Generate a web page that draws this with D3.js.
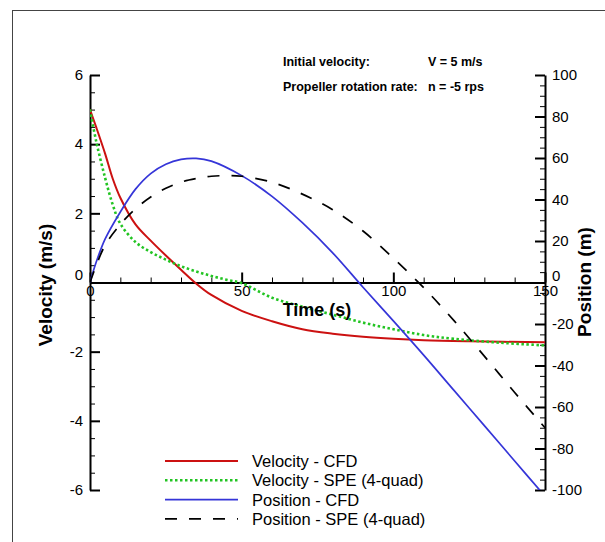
<!DOCTYPE html>
<html>
<head>
<meta charset="utf-8">
<script src="https://cdn.jsdelivr.net/npm/d3@7"></script>
<style>
  body { margin: 0; background: #fff; }
  svg { font-family: "Liberation Sans", Arial, sans-serif; }
  .axis path, .axis line { stroke: #000; }
  .axis text { font-size: 15px; fill: #000; }
</style>
</head>
<body>
<svg id="chart" width="605" height="542"></svg>
<script>
// data
let velCfdT = [0, 2, 5, 7.5, 10, 15, 20, 25, 30, 35, 40, 50, 60, 70, 80, 90, 100, 110, 125, 150];
let velCfd  = [5.0, 4.5, 3.72, 3.0, 2.45, 1.68, 1.21, 0.78, 0.37, -0.03, -0.36, -0.82, -1.12, -1.35, -1.48, -1.57, -1.63, -1.67, -1.70, -1.73];

let velSpeT = [0, 2, 5, 7.5, 10, 15, 20, 25, 30, 35, 40, 45, 50, 60, 70, 80, 90, 100, 110, 120, 135, 150];
let velSpe  = [5.0, 4.1, 3.02, 2.25, 1.70, 1.17, 0.88, 0.66, 0.47, 0.32, 0.19, 0.08, -0.02, -0.44, -0.70, -0.93, -1.16, -1.35, -1.52, -1.63, -1.74, -1.82];

let posCfdT = [0, 2, 5, 10, 15, 20, 25, 30, 35, 40, 50, 60, 70, 80, 90, 100, 110, 120, 130, 140, 150];
let posCfd  = [0, 9.6, 21, 34, 45, 52.5, 57, 59.3, 59.8, 58.5, 51.5, 41.5, 28.8, 14.3, -2.3, -18.5, -35, -52, -69, -86, -103];

let posSpeT = [0, 2, 5, 10, 15, 20, 25, 30, 35, 40, 45, 50, 60, 70, 80, 90, 100, 110, 120, 130, 140, 150];
let posSpe  = [0, 8, 18, 28, 35.5, 41.2, 45.4, 48.4, 50.1, 51.2, 51.5, 51.2, 48.3, 42.6, 35.1, 24.8, 11.7, -2.5, -18.4, -35.5, -53, -70];

let timeTicks = [0, 50, 100, 150];
let velTicks = [-6, -4, -2, 0, 2, 4, 6];
let posTicks = [-100, -80, -60, -40, -20, 0, 20, 40, 60, 80, 100];

let legendNames = ["Velocity - CFD", "Velocity - SPE (4-quad)", "Position - CFD", "Position - SPE (4-quad)"];
let noteLabels = ["Initial velocity:", "Propeller rotation rate:"];
let noteValues = ["V = 5 m/s", "n = -5 rps"];

let svg = d3.select("#chart");

// frame lines (top and left only)
svg.append("line").attr("x1", 12).attr("x2", 605).attr("y1", 10.5).attr("y2", 10.5)
    .attr("stroke", "#444").attr("stroke-width", 1);
svg.append("line").attr("x1", 12.5).attr("x2", 12.5).attr("y1", 10).attr("y2", 542)
    .attr("stroke", "#444").attr("stroke-width", 1);

let plotLeft = 90, plotRight = 545, plotTop = 75, plotBottom = 490;

let x = d3.scaleLinear().domain([0, 150]).range([plotLeft, plotRight]);
let yV = d3.scaleLinear().domain([-6, 6]).range([plotBottom, plotTop]);
let yP = d3.scaleLinear().domain([-100, 100]).range([plotBottom, plotTop]);

let fmt = d => String(d);

// minor ticks
let minorV = d3.range(-6, 6.01, 0.5).filter(v => !velTicks.includes(v));
let minorP = d3.range(-100, 101, 5).filter(v => !posTicks.includes(v));
let minorT = d3.range(0, 151, 10).filter(v => !timeTicks.includes(v));

svg.append("g").attr("class", "axis").attr("transform", "translate(" + plotLeft + ",0)")
    .call(d3.axisLeft(yV).tickValues(minorV).tickSize(-5).tickSizeOuter(0).tickFormat(""))
    .call(g => g.select(".domain").remove());
svg.append("g").attr("class", "axis").attr("transform", "translate(" + plotRight + ",0)")
    .call(d3.axisRight(yP).tickValues(minorP).tickSize(-5).tickSizeOuter(0).tickFormat(""))
    .call(g => g.select(".domain").remove());
svg.append("g").attr("class", "axis").attr("transform", "translate(0," + yV(0) + ")")
    .call(d3.axisBottom(x).tickValues(minorT).tickSize(-5).tickSizeOuter(0).tickFormat(""))
    .call(g => g.select(".domain").remove());

// major axes
let gL = svg.append("g").attr("class", "axis").attr("transform", "translate(" + plotLeft + ",0)")
    .call(d3.axisLeft(yV).tickValues(velTicks).tickSize(-10).tickSizeOuter(0).tickPadding(7).tickFormat(fmt));
let gR = svg.append("g").attr("class", "axis").attr("transform", "translate(" + plotRight + ",0)")
    .call(d3.axisRight(yP).tickValues(posTicks).tickSize(-10).tickSizeOuter(0).tickPadding(7).tickFormat(fmt));
let gB = svg.append("g").attr("class", "axis").attr("transform", "translate(0," + yV(0) + ")")
    .call(d3.axisBottom(x).tickValues(timeTicks).tickSize(-10).tickSizeOuter(0).tickPadding(3).tickFormat(fmt));

[gL, gR, gB].forEach(g => {
    g.select(".domain").attr("stroke-width", 2);
    g.selectAll(".tick line").attr("stroke-width", 2);
});

// zero labels sit a little above the time axis, as in the original
gL.selectAll(".tick").filter(d => d === 0).select("text").attr("y", -8);
gR.selectAll(".tick").filter(d => d === 0).select("text").attr("y", -7);

// curves
svg.append("clipPath").attr("id", "plotClip").append("rect")
    .attr("x", plotLeft).attr("y", plotTop).attr("width", plotRight - plotLeft).attr("height", plotBottom - plotTop);
let curves = svg.append("g").attr("clip-path", "url(#plotClip)");

let series = [
    {t: velCfdT, v: velCfd, y: yV, color: "#cc1111", width: 2, dash: null},
    {t: velSpeT, v: velSpe, y: yV, color: "#22c422", width: 2.6, dash: "2.5,2.5"},
    {t: posCfdT, v: posCfd, y: yP, color: "#3535d8", width: 1.7, dash: null},
    {t: posSpeT, v: posSpe, y: yP, color: "#000", width: 1.7, dash: "12,12"}
];

series.forEach(s => {
    let line = d3.line()
        .x((d, i) => x(s.t[i]))
        .y(d => s.y(d))
        .curve(d3.curveCatmullRom.alpha(0.5));
    curves.append("path")
        .datum(s.v)
        .attr("d", line)
        .attr("fill", "none")
        .attr("stroke", s.color)
        .attr("stroke-width", s.width)
        .attr("stroke-dasharray", s.dash);
});

// axis titles
svg.append("text").text("Time (s)")
    .attr("x", 317).attr("y", 316)
    .attr("text-anchor", "middle").attr("font-weight", "bold").attr("font-size", 18);
svg.append("text").text("Velocity (m/s)")
    .attr("transform", "translate(52,285) rotate(-90)")
    .attr("text-anchor", "middle").attr("font-weight", "bold").attr("font-size", 19);
svg.append("text").text("Position (m)")
    .attr("transform", "translate(591,282) rotate(-90)")
    .attr("text-anchor", "middle").attr("font-weight", "bold").attr("font-size", 19);

// annotation
noteLabels.forEach((d, i) => {
    svg.append("text").text(d)
        .attr("x", 283).attr("y", 66 + i * 25)
        .attr("font-weight", "bold").attr("font-size", 12.5);
    svg.append("text").text(noteValues[i])
        .attr("x", 428).attr("y", 66 + i * 25)
        .attr("font-weight", "bold").attr("font-size", 12.5);
});

// legend
let legend = svg.append("g");
legendNames.forEach((name, i) => {
    let s = series[i];
    let yy = 461 + i * 19.3;
    legend.append("line")
        .attr("x1", 165).attr("x2", 238).attr("y1", yy).attr("y2", yy)
        .attr("stroke", s.color).attr("stroke-width", s.width)
        .attr("stroke-dasharray", s.dash);
    legend.append("text").text(name)
        .attr("x", 252).attr("y", yy + 6)
        .attr("font-size", 16.5);
});
</script>
</body>
</html>
